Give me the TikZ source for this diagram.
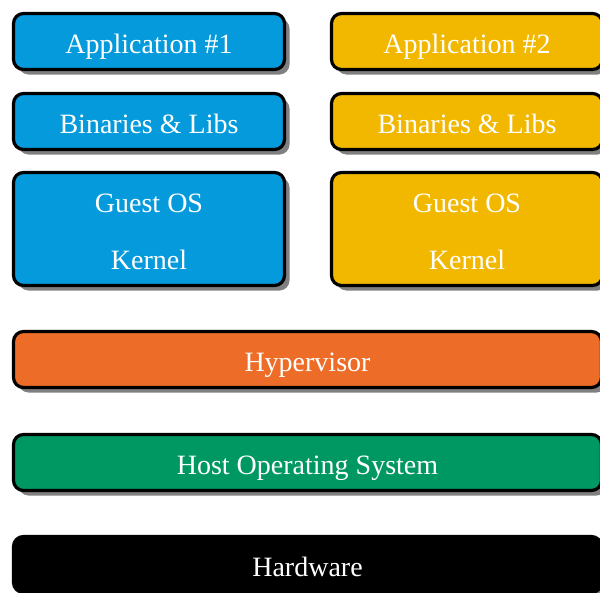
\documentclass[tikz,border=0pt]{standalone}
\usepackage{fontspec}
\setmainfont{Liberation Serif}
\usetikzlibrary{shadows}

\definecolor{vmblue}{RGB}{4,154,219}
\definecolor{vmyellow}{RGB}{242,184,0}
\definecolor{vmorange}{RGB}{236,108,40}
\definecolor{vmgreen}{RGB}{0,152,98}

\tikzset{
  layer/.style={draw=black, line width=3.2pt, rounded corners=10pt,
    text=white, font=\fontsize{28}{57}\selectfont, align=center,
    inner sep=0pt, minimum height=56pt, text height=23pt, text depth=0pt,
    drop shadow={shadow xshift=5pt, shadow yshift=-5pt, opacity=1, fill=black!50}},
  narrow/.style={layer, minimum width=271pt},
  tall/.style={narrow, minimum height=113pt, text height=80pt},
  wide/.style={layer, minimum width=588pt},
}

\begin{document}
\begin{tikzpicture}[x=1pt, y=-1pt]
  \useasboundingbox (0,0) rectangle (600,592);

  % virtual machine 1
  \node[narrow, fill=vmblue] (app1) at (149,41.5) {Application \#1};
  \node[narrow, fill=vmblue] (bin1) at (149,121.5) {Binaries \& Libs};
  \node[tall, fill=vmblue] (os1) at (149,229) {Guest OS\\Kernel};

  % virtual machine 2
  \node[narrow, fill=vmyellow] (app2) at (467,41.5) {Application \#2};
  \node[narrow, fill=vmyellow] (bin2) at (467,121.5) {Binaries \& Libs};
  \node[tall, fill=vmyellow] (os2) at (467,229) {Guest OS\\Kernel};

  % shared layers
  \node[wide, fill=vmorange] (hyp) at (307.5,359.5) {Hypervisor};
  \node[wide, fill=vmgreen] (host) at (307.5,462.5) {Host Operating System};
  \node[wide, fill=black] (hw) at (307.5,564.5) {Hardware};
\end{tikzpicture}
\end{document}
